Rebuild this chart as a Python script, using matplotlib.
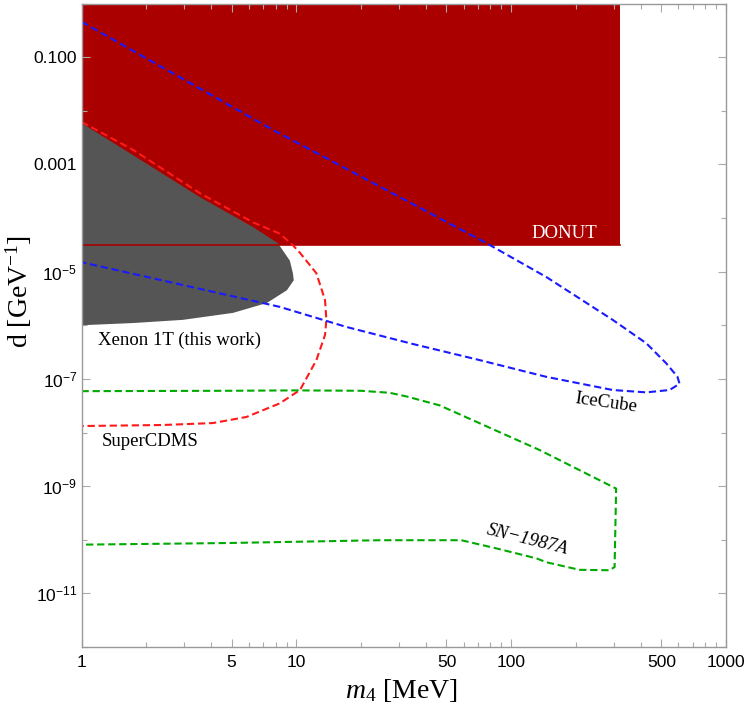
import numpy as np
import matplotlib
matplotlib.use("Agg")
import matplotlib.pyplot as plt
from matplotlib.ticker import FixedLocator, FixedFormatter, NullFormatter

plt.rcParams['mathtext.fontset'] = 'custom'
plt.rcParams['mathtext.rm'] = 'Liberation Serif'
plt.rcParams['mathtext.it'] = 'Liberation Serif:italic'
plt.rcParams['mathtext.sf'] = 'Liberation Sans'

# ---------------- data ----------------
donut_m = [1.0, 322.0]
donut_d_low = 3.2e-5
donut_d_high = 1.0

xenon_m = [1.0, 1.74, 3.56, 6.28, 8.20, 9.33, 9.64, 9.73, 9.04, 7.29, 5.07, 2.96, 1.74, 1.0]
xenon_d = [5.9e-3, 1.48e-3, 2.45e-4, 6.8e-5, 3.4e-5, 1.6e-5, 9.3e-6, 6.9e-6, 4.5e-6, 2.6e-6,
           1.7e-6, 1.26e-6, 1.1e-6, 1.0e-6]

cdms_m = [1.0, 1.74, 3.56, 6.28, 8.38, 9.64, 10.4, 12.4, 13.6, 13.8, 13.6, 12.4, 10.4, 8.38,
          5.86, 4.09, 2.39, 1.0]
cdms_d = [6.2e-3, 1.86e-3, 2.9e-4, 8.3e-5, 5.1e-5, 3.1e-5, 2.24e-5, 9.3e-6, 2.95e-6, 1.26e-6,
          6.6e-7, 2.24e-7, 6.2e-8, 3.5e-8, 1.95e-8, 1.5e-8, 1.38e-8, 1.32e-8]

icecube_m = [1.0, 7.78, 76.7, 146, 297, 426, 527, 594, 608, 546, 426, 297, 146, 71.3, 34.8,
             17.1, 8.38, 1.0]
icecube_d = [0.457, 4.4e-3, 3.4e-5, 7.9e-6, 1.26e-6, 4.6e-7, 1.95e-7, 1.1e-7, 8.1e-8, 6.2e-8,
             5.6e-8, 6.2e-8, 1.09e-7, 2.24e-7, 4.48e-7, 9.3e-7, 2.2e-6, 1.5e-5]

sn_m = [1.0, 4.9, 10.0, 20.0, 27.2, 32.6, 46.5, 66.2, 135.8, 308, 303, 287, 208, 146, 131,
        85.3, 58.6, 24.5, 4.9, 1.0]
sn_d = [5.9e-8, 6.0e-8, 6.1e-8, 6.0e-8, 5.5e-8, 4.7e-8, 3.2e-8, 1.7e-8, 4.7e-9, 9.0e-10,
        3.1e-11, 2.7e-11, 2.75e-11, 3.8e-11, 4.5e-11, 6.9e-11, 9.8e-11, 9.8e-11, 8.7e-11, 8.1e-11]

x_ticks = [1, 5, 10, 50, 100, 500, 1000]
x_tick_labels = ["1", "5", "10", "50", "100", "500", "1000"]
y_ticks = [1e-11, 1e-9, 1e-7, 1e-5, 1e-3, 1e-1]
y_tick_labels = [r"$\mathsf{10^{-11}}$", r"$\mathsf{10^{-9}}$", r"$\mathsf{10^{-7}}$",
                 r"$\mathsf{10^{-5}}$", "0.001", "0.100"]

# ---------------- figure ----------------
W, H = 747, 705
fig = plt.figure(figsize=(W / 100, H / 100), dpi=100)
L, R, T, B = 81.5, 726, 3.5, 647
ax = fig.add_axes([L / W, 1 - B / H, (R - L) / W, (B - T) / H])
ax.set_xscale('log')
ax.set_yscale('log')
ax.set_xlim(1, 1000)
ax.set_ylim(1e-12, 1)

donut_col = '#aa0000'
ax.fill_between(donut_m, donut_d_low, donut_d_high, color=donut_col, lw=0, zorder=1)
ax.fill(xenon_m, xenon_d, color='#555555', lw=0, zorder=2)
ax.plot(donut_m, [donut_d_low, donut_d_low], color=donut_col, lw=1.2, zorder=3)

dash = (0, (3.5, 1.8))
ax.plot(cdms_m, cdms_d, color='#ff1a1a', lw=1.5, ls=dash, zorder=4)
ax.plot(icecube_m, icecube_d, color='#1a1aff', lw=1.5, ls=dash, zorder=4)
ax.plot(sn_m, sn_d, color='#00aa00', lw=1.5, ls=dash, zorder=4)

# labels on plot
serif = 'Liberation Serif'
fs = 13.5
ax.text(177, 5.2e-5, "DONUT", color='white', fontsize=fs, family=serif,
        ha='center', va='center', zorder=5)
ax.text(2.87, 5.3e-7, "Xenon 1T (this work)", color='black', fontsize=fs, family=serif,
        ha='center', va='center', zorder=5)
ax.text(2.08, 6.9e-9, "SuperCDMS", color='black', fontsize=fs, family=serif,
        ha='center', va='center', zorder=5)
ax.text(275, 3.5e-8, "IceCube", color='black', fontsize=fs, family=serif,
        ha='center', va='center', rotation=-8, zorder=5)
ax.text(119, 9.8e-11, "SN\u22121987A", color='black', fontsize=fs, family=serif,
        style='italic', ha='center', va='center', rotation=-14, zorder=5)

# ticks
spine_col = '#999999'
for s in ax.spines.values():
    s.set_color(spine_col)
    s.set_linewidth(1.0)
    s.set_zorder(6)

ax.xaxis.set_major_locator(FixedLocator(x_ticks))
ax.xaxis.set_major_formatter(FixedFormatter(x_tick_labels))
x_minor = [v * d for d in (1, 10, 100) for v in range(2, 10) if v * d not in x_ticks]
ax.xaxis.set_minor_locator(FixedLocator(x_minor))
ax.xaxis.set_minor_formatter(NullFormatter())

ax.yaxis.set_major_locator(FixedLocator(y_ticks))
ax.yaxis.set_major_formatter(FixedFormatter(y_tick_labels))
y_minor = [10.0 ** e for e in range(-12, 1) if 10.0 ** e not in y_ticks]
ax.yaxis.set_minor_locator(FixedLocator(y_minor))
ax.yaxis.set_minor_formatter(NullFormatter())

ax.tick_params(which='both', direction='in', top=True, right=True, color='#aaaaaa')
ax.tick_params(which='major', length=6, width=0.8)
ax.tick_params(which='minor', length=3.5, width=0.8)
ax.tick_params(axis='x', which='major', pad=6, labelsize=12.5)
ax.tick_params(axis='y', which='major', pad=3, labelsize=12.5)
for lab in ax.get_xticklabels() + ax.get_yticklabels():
    lab.set_family('Liberation Sans')

fig.text(19 / W, 1 - 291 / H, r"d [GeV$^{-1}$]", rotation=90, ha='center', va='center',
         family=serif, fontsize=20)
fig.text(401 / W, 1 - 690 / H, r"$m_4$ [MeV]", ha='center', va='center',
         family=serif, fontsize=20)

fig.savefig("out.png", dpi=100)
